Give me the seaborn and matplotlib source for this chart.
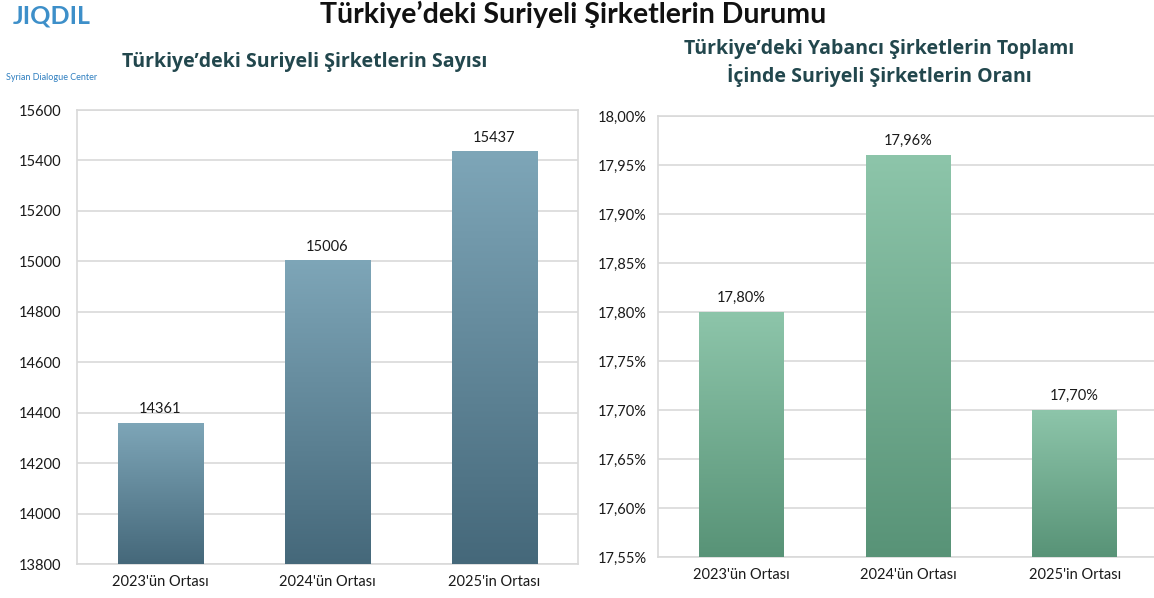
import numpy as np
import pandas as pd
import matplotlib
matplotlib.use("Agg")
import matplotlib.pyplot as plt
from matplotlib.colors import LinearSegmentedColormap
import seaborn as sns

# ---- data ----
categories = ["2023'ün Ortası", "2024'ün Ortası", "2025'in Ortası"]
company_counts = [14361, 15006, 15437]
syrian_share = [17.80, 17.96, 17.70]
count_ticks = [13800, 14000, 14200, 14400, 14600, 14800, 15000, 15200, 15400, 15600]
share_ticks = [17.55, 17.60, 17.65, 17.70, 17.75, 17.80, 17.85, 17.90, 17.95, 18.00]

main_title = "Türkiye\u2019deki Suriyeli Şirketlerin Durumu"
left_title = "Türkiye\u2019deki Suriyeli Şirketlerin Sayısı"
right_title = "Türkiye\u2019deki Yabancı Şirketlerin Toplamı\nİçinde Suriyeli Şirketlerin Oranı"

sns.set_theme(style="white")
plt.rcParams['font.family'] = ['Lato', 'DejaVu Sans']

W, H = 1154, 598
fig = plt.figure(figsize=(W / 100, H / 100), dpi=100)
fig.patch.set_facecolor("white")


def px_axes(l, t, r, b):
    return fig.add_axes([l / W, 1 - b / H, (r - l) / W, (b - t) / H])


ax1 = px_axes(77, 110, 578, 564)
ax2 = px_axes(658, 116, 1158, 557)

df1 = pd.DataFrame({"cat": categories, "val": company_counts})
df2 = pd.DataFrame({"cat": categories, "val": syrian_share})

sns.barplot(data=df1, x="cat", y="val", ax=ax1, width=0.51, color="#5f8597",
            edgecolor="none", zorder=2)
sns.barplot(data=df2, x="cat", y="val", ax=ax2, width=0.51, color="#70aa8e",
            edgecolor="none", zorder=2)

ax1.set_ylim(count_ticks[0], count_ticks[-1])
ax1.set_yticks(count_ticks)
ax1.set_yticklabels([str(t) for t in count_ticks])
ax2.set_ylim(share_ticks[0], share_ticks[-1])
ax2.set_yticks(share_ticks)
ax2.set_yticklabels([f"{t:.2f}%".replace(".", ",") for t in share_ticks])


def gradient_bars(ax, top_col, bot_col):
    cmap = LinearSegmentedColormap.from_list("g", [bot_col, top_col])
    grad = np.linspace(0, 1, 256).reshape(-1, 1)
    for p in list(ax.patches):
        x0, y0 = p.get_x(), p.get_y()
        w, h = p.get_width(), p.get_height()
        ylo = ax.get_ylim()[0]
        im = ax.imshow(grad, cmap=cmap, aspect="auto", origin="lower",
                       extent=[x0, x0 + w, ylo, y0 + h], zorder=3,
                       interpolation="bicubic")
        im.set_clip_path(p)
        p.set_alpha(0)
    ax.set_xlim(-0.5, 2.5)


gradient_bars(ax1, "#7ea6b8", "#45687a")
gradient_bars(ax2, "#8dc5aa", "#589377")

for ax in (ax1, ax2):
    ax.set_xlabel("")
    ax.set_ylabel("")
    ax.grid(axis="y", color="#d9d9d9", linewidth=1.2, zorder=0)
    ax.set_axisbelow(True)
    for s in ax.spines.values():
        s.set_color("#d9d9d9")
        s.set_linewidth(1.2)
    ax.tick_params(axis="both", length=0, labelsize=10.5, colors="#1a1a1a", pad=8)
    ax.set_facecolor("none")

ax1.tick_params(axis="y", pad=11)

for i, v in enumerate(company_counts):
    ax1.text(i, v + 25, str(v), ha="center", va="bottom", fontsize=10.5, color="#1a1a1a")
for i, v in enumerate(syrian_share):
    ax2.text(i, v + 0.007, f"{v:.2f}%".replace(".", ","), ha="center", va="bottom",
             fontsize=10.5, color="#1a1a1a")

fig.text(573 / W, 1 - 14 / H, main_title, ha="center", va="center",
         fontsize=20.5, fontweight="bold", color="#111111")
fig.text(305 / W, 1 - 62 / H, left_title, ha="center", va="center",
         fontsize=14, fontweight="bold", color="#22474d",
         family=['Open Sans', 'DejaVu Sans'])
fig.text(879 / W, 1 - 63 / H, right_title, ha="center", va="center",
         fontsize=14, fontweight="bold", color="#22474d", linespacing=1.3,
         family=['Open Sans', 'DejaVu Sans'])

# logo text
fig.text(52 / W, 1 - 16 / H, "JIQDIL", ha="center", va="center", fontsize=18,
         fontweight="bold", color="#3d8fc9")
fig.text(52 / W, 1 - 78 / H, "Syrian Dialogue Center", ha="center", va="center",
         fontsize=6.5, color="#2f7fc0")

fig.savefig("out.png", dpi=100, facecolor="white")
